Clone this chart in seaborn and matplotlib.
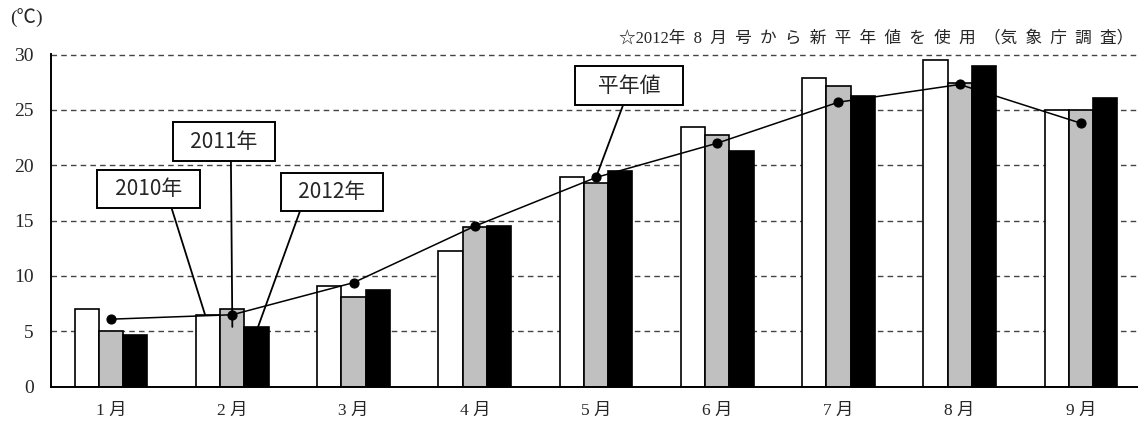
import numpy as np
import pandas as pd
import matplotlib
matplotlib.use("Agg")
import matplotlib.pyplot as plt
import seaborn as sns

# monthly mean temperature (deg C)
months = ["1 月", "2 月", "3 月", "4 月", "5 月", "6 月", "7 月", "8 月", "9 月"]
years = ["2010年", "2011年", "2012年"]
y2010 = [7.0, 6.5, 9.1, 12.3, 18.9, 23.5, 27.9, 29.5, 25.0]
y2011 = [5.0, 7.0, 8.1, 14.4, 18.4, 22.7, 27.2, 27.4, 25.0]
y2012 = [4.7, 5.4, 8.7, 14.5, 19.5, 21.3, 26.3, 29.0, 26.1]
normal = [6.1, 6.5, 9.4, 14.5, 18.9, 22.0, 25.7, 27.3, 23.8]
yticks = [0, 5, 10, 15, 20, 25, 30]

df = pd.DataFrame({
    "month": months * 3,
    "year": [years[0]] * 9 + [years[1]] * 9 + [years[2]] * 9,
    "temp": y2010 + y2011 + y2012,
})

sns.set_style("white")
plt.rcParams['font.family'] = ['Liberation Serif', 'Noto Sans CJK JP']

W, H = 1138, 425
fig = plt.figure(figsize=(W / 100, H / 100), dpi=100)
ax = fig.add_axes([50.5 / W, 38.3 / H, 1091 / W, 333 / H])

sns.barplot(data=df, x="month", y="temp", hue="year", hue_order=years,
            palette=["white", "#c0c0c0", "black"], width=0.6, gap=0,
            edgecolor="black", linewidth=1.2, legend=False, ax=ax)
sns.pointplot(x=months, y=normal, color="black", markers="o",
              markersize=6.5, linewidth=1.1, errorbar=None, ax=ax)

ax.set_xlim(-0.5, 8.5)
ax.set_ylim(0, 30.08)
ax.set_yticks(yticks)
ax.set_xlabel("")
ax.set_ylabel("")
ax.set_axisbelow(True)
ax.yaxis.grid(True, color="#444444", linestyle=(0, (4, 3)), linewidth=1)
ax.xaxis.grid(False)
for s in ["top", "right"]:
    ax.spines[s].set_visible(False)
for s in ["left", "bottom"]:
    ax.spines[s].set_color("black")
    ax.spines[s].set_linewidth(1.4)
ax.tick_params(axis="y", direction="in", length=4, width=1.4, labelsize=14, pad=12)
ax.tick_params(axis="x", direction="in", length=5, width=1, labelsize=12.5, pad=12)

fig.text(26 / W, 1 - 18 / H, "(℃)", fontsize=14, ha="center", va="center")
fig.text(1133 / W, 1 - 38 / H,
         "☆2012年  8  月  号  か  ら  新  平  年  値  を  使  用  （気  象  庁  調  査）",
         fontsize=12, ha="right", va="center")

# callout boxes (centre in pixels from top-left, where the line leaves the box)
box = dict(boxstyle="square,pad=0.4", fc="white", ec="black", lw=1.4)
callouts = [
    ("  2010年  ", (1 - 0.225, y2010[1]), (148.5, 189), 0.74),
    ("  2011年  ", (1.0, 5.4), (224, 141.5), 0.58),
    ("  2012年  ", (1 + 0.212, y2012[1]), (332, 192), 0.16),
    ("   平年値   ", (4, normal[4]), (629, 85.5), 0.47),
]
for label, xy, (cx, cy), rx in callouts:
    ax.annotate(label, xy=xy, xycoords="data",
                xytext=(cx, H - cy), textcoords="figure pixels",
                ha="center", va="center", fontsize=15,
                family=["Noto Sans CJK JP"], bbox=box,
                arrowprops=dict(arrowstyle="-", relpos=(rx, 0), lw=1.3,
                                color="black", shrinkA=0, shrinkB=0),
                zorder=5, annotation_clip=False)

fig.savefig("out.png", dpi=100)
